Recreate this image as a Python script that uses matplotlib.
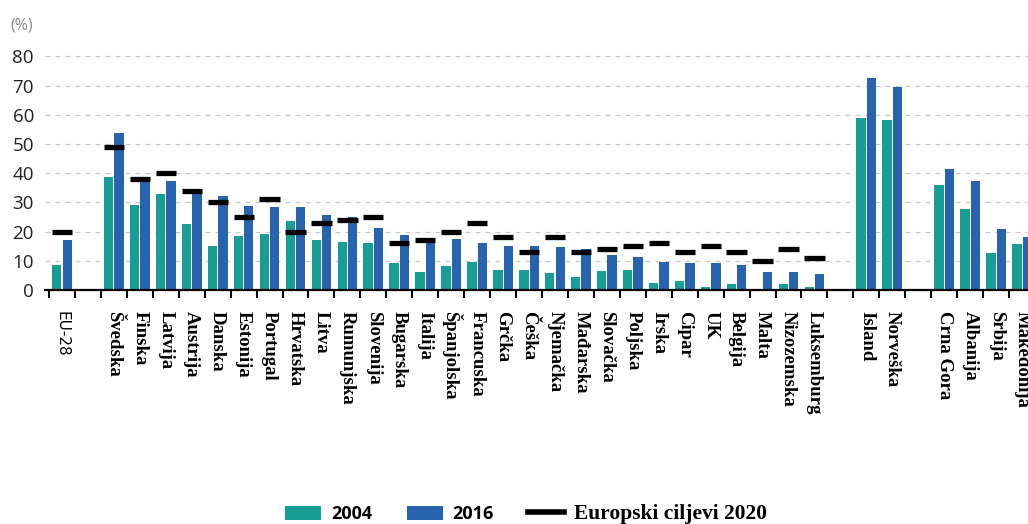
import numpy as np
import matplotlib
matplotlib.use("Agg")
import matplotlib.pyplot as plt
from matplotlib.patches import Patch
from matplotlib.lines import Line2D

# countries in display order; a blank slot separates each group
countries = [
    "EU-28",
    "Švedska", "Finska", "Latvija", "Austrija", "Danska", "Estonija", "Portugal",
    "Hrvatska", "Litva", "Rumunjska", "Slovenija", "Bugarska", "Italija",
    "Španjolska", "Francuska", "Grčka", "Češka", "Njemačka", "Mađarska",
    "Slovačka", "Poljska", "Irska", "Cipar", "UK", "Belgija", "Malta",
    "Nizozemska", "Luksemburg",
    "Island", "Norveška",
    "Crna Gora", "Albanija", "Srbija", "Makedonija",
]
group_sizes = [1, 28, 2, 4]

share_2004 = [
    8.5,
    38.7, 29.2, 32.8, 22.6, 14.9, 18.4, 19.2, 23.5, 17.2, 16.3, 16.1, 9.4, 6.3,
    8.3, 9.5, 6.9, 6.8, 5.8, 4.4, 6.4, 6.9, 2.4, 3.1, 1.1, 1.9, 0.1, 2.0, 0.9,
    58.8, 58.1,
    35.8, 27.8, 12.7, 15.7,
]
share_2016 = [
    17.0,
    53.8, 38.0, 37.2, 33.5, 32.2, 28.8, 28.5, 28.3, 25.6, 25.0, 21.3, 18.8, 17.4,
    17.3, 16.0, 15.2, 14.9, 14.8, 14.2, 12.0, 11.3, 9.5, 9.3, 9.3, 8.7, 6.0, 6.0, 5.4,
    72.6, 69.4,
    41.5, 37.2, 21.0, 18.0,
]
target_2020 = [
    20,
    49, 38, 40, 34, 30, 25, 31, 20, 23, 24, 25, 16, 17,
    20, 23, 18, 13, 18, 13, 14, 15, 16, 13, 15, 13, 10, 14, 11,
    np.nan, np.nan,
    np.nan, np.nan, np.nan, np.nan,
]

teal = "#179e95"
blue = "#2863b0"

# slot index of every country (one empty slot after each group)
slots = []
start = 0
for n in group_sizes:
    slots.extend(range(start, start + n))
    start += n + 1
slots = np.array(slots, dtype=float)
centers = slots + 0.5

fig = plt.figure(figsize=(10.28, 5.24), dpi=100)
ax = fig.add_axes([0.0438, 0.4466, 0.9562, 0.4568])

ax.bar(centers - 0.2, share_2004, width=0.36, color=teal, zorder=2)
ax.bar(centers + 0.2, share_2016, width=0.36, color=blue, zorder=2)

tgt = np.array(target_2020, dtype=float)
has_tgt = ~np.isnan(tgt)
ax.hlines(tgt[has_tgt], centers[has_tgt] - 0.39, centers[has_tgt] + 0.39,
          color="black", linewidth=3.8, zorder=3)

ax.set_xlim(-0.154, 37.73)
ax.set_ylim(0, 82)
ax.set_yticks(np.arange(0, 81, 10))
ax.yaxis.grid(True, color="#c9c9c9", linestyle=(0, (4, 4)), linewidth=0.9)
ax.set_axisbelow(True)

for side in ["left", "right", "top"]:
    ax.spines[side].set_visible(False)
ax.spines["bottom"].set_linewidth(1.6)
ax.spines["bottom"].set_zorder(4)

# tick marks on slot borders, names at slot centres
ax.set_xticks(np.arange(0, 38))
ax.set_xticklabels([])
ax.tick_params(axis="x", which="major", length=6, width=1.5, color="black")
ax.set_xticks(centers, minor=True)
ax.set_xticklabels(countries, minor=True, rotation=270, va="top", ha="center")
ax.tick_params(axis="x", which="minor", length=0, pad=15)
for lbl in ax.get_xticklabels(minor=True):
    if lbl.get_text() == "EU-28":
        lbl.set_fontfamily("DejaVu Sans")
        lbl.set_fontsize(11)
    else:
        lbl.set_fontfamily("Liberation Serif")
        lbl.set_fontweight("bold")
        lbl.set_fontsize(13.5)

ax.tick_params(axis="y", length=0, pad=8, labelsize=13.5, labelcolor="#222222")
for lbl in ax.get_yticklabels():
    lbl.set_fontfamily("Open Sans")

fig.text(0.01, 0.952, "(%)", fontsize=11.5, color="#8a8a8a", family="Open Sans",
         va="center", ha="left")

handles = [
    Patch(facecolor=teal, edgecolor="none"),
    Patch(facecolor=blue, edgecolor="none"),
    Line2D([0], [0], color="black", linewidth=4),
]
leg = fig.legend(handles, ["2004", "2016", "Europski ciljevi 2020"],
                 loc="center", bbox_to_anchor=(0.512, 0.019), ncol=3,
                 frameon=False, fontsize=13, handlelength=2.0,
                 handleheight=0.85, handletextpad=0.55, columnspacing=1.9)
for i, t in enumerate(leg.get_texts()):
    if i < 2:
        t.set_fontfamily("Open Sans")
        t.set_fontweight("bold")
    else:
        t.set_fontfamily("Liberation Serif")
        t.set_fontweight("bold")
        t.set_fontsize(15.5)

fig.savefig("out.png", dpi=100)
